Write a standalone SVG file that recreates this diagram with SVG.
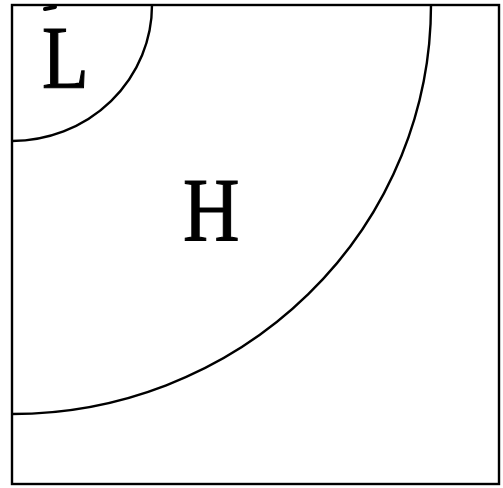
<svg xmlns="http://www.w3.org/2000/svg" width="503" height="488" viewBox="0 0 503 488">
<style>
.ln{fill:none;stroke:#000;stroke-width:2.4}
.lb{font-family:"Liberation Serif",serif;fill:#000;stroke:#000;stroke-width:1.2}
</style>
<rect width="503" height="488" fill="#fff"/>
<g id="frame"><rect class="ln" x="12" y="5" width="487" height="479"/></g>
<g id="connectors">
<path class="ln" d="M152,5 A140,136 0 0 1 12,141"/>
<path class="ln" d="M431,5 A419,409 0 0 1 12,414"/>
<path d="M45,9 L55,7" stroke="#000" stroke-width="4" stroke-linecap="round"/>
</g>
<g id="L"><text class="lb" transform="translate(42,87) scale(0.86,1)" font-size="89">L</text></g>
<g id="H"><text class="lb" transform="translate(183,241) scale(0.85,1)" font-size="92">H</text></g>
</svg>
